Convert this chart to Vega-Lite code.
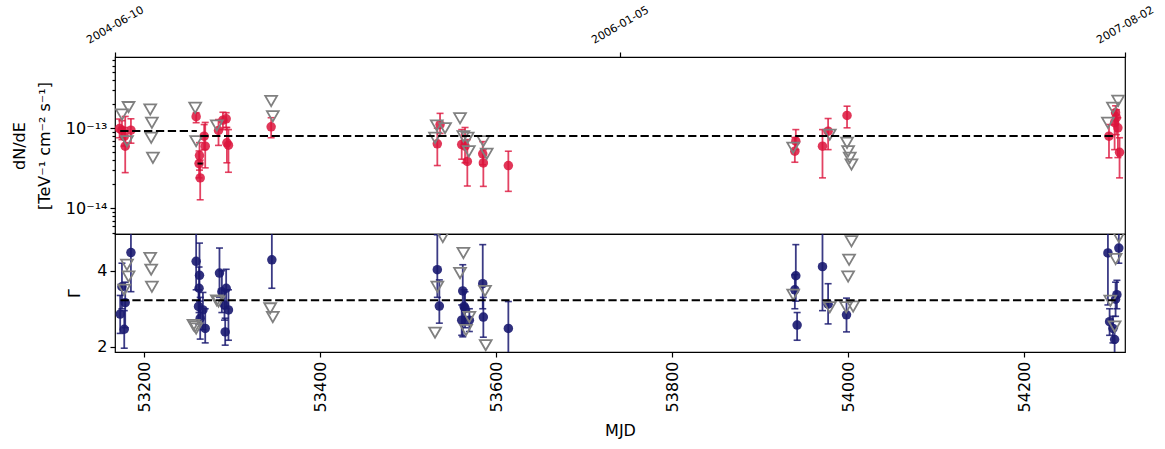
{
  "$schema": "https://vega.github.io/schema/vega-lite/v6.json",
  "background": "white",
  "padding": {"left": 10, "top": 3, "right": 5, "bottom": 5},
  "config": {
    "font": "DejaVu Sans",
    "view": {"stroke": "black", "strokeWidth": 1.2},
    "axis": {
      "domain": false,
      "grid": false,
      "labelFont": "DejaVu Sans",
      "titleFont": "DejaVu Sans",
      "labelFontSize": 16,
      "titleFontSize": 16,
      "titleFontWeight": "normal",
      "labelColor": "black",
      "titleColor": "black",
      "tickColor": "black",
      "tickWidth": 1.2,
      "tickSize": 5
    }
  },
  "datasets": {
    "flux": [
      {"mjd": 53172.0, "flux": 9.9e-14, "lo": 7.6e-14, "hi": 1.30e-13},
      {"mjd": 53174.7, "flux": 9.44e-14, "lo": 7.2e-14, "hi": 1.24e-13},
      {"mjd": 53177.3, "flux": 7.9e-14, "lo": 6.0e-14, "hi": 1.02e-13},
      {"mjd": 53178.4, "flux": 5.96e-14, "lo": 2.79e-14, "hi": 1.40e-13},
      {"mjd": 53184.9, "flux": 9.44e-14, "lo": 6.5e-14, "hi": 1.31e-13},
      {"mjd": 53259.0, "flux": 1.39e-13, "lo": 1.17e-13, "hi": 1.56e-13},
      {"mjd": 53262.8, "flux": 4.56e-14, "lo": 3.0e-14, "hi": 6.6e-14},
      {"mjd": 53262.3, "flux": 3.62e-14, "lo": 2.4e-14, "hi": 5.2e-14},
      {"mjd": 53263.6, "flux": 2.40e-14, "lo": 1.28e-14, "hi": 4.0e-14},
      {"mjd": 53268.1, "flux": 7.94e-14, "lo": 5.4e-14, "hi": 1.11e-13},
      {"mjd": 53269.3, "flux": 5.96e-14, "lo": 3.2e-14, "hi": 1.18e-13},
      {"mjd": 53284.4, "flux": 9.36e-14, "lo": 6.1e-14, "hi": 1.28e-13},
      {"mjd": 53289.4, "flux": 1.26e-13, "lo": 9.6e-14, "hi": 1.58e-13},
      {"mjd": 53293.1, "flux": 1.31e-13, "lo": 1.02e-13, "hi": 1.56e-13},
      {"mjd": 53293.9, "flux": 6.57e-14, "lo": 3.7e-14, "hi": 1.02e-13},
      {"mjd": 53295.7, "flux": 6.13e-14, "lo": 2.82e-14, "hi": 9.6e-14},
      {"mjd": 53344.2, "flux": 1.04e-13, "lo": 7.6e-14, "hi": 1.35e-13},
      {"mjd": 53536.1, "flux": 1.11e-13, "lo": 8.6e-14, "hi": 1.53e-13},
      {"mjd": 53533.0, "flux": 6.38e-14, "lo": 3.42e-14, "hi": 1.0e-13},
      {"mjd": 53560.7, "flux": 6.25e-14, "lo": 4.1e-14, "hi": 9.6e-14},
      {"mjd": 53564.5, "flux": 5.96e-14, "lo": 3.7e-14, "hi": 1.02e-13},
      {"mjd": 53567.1, "flux": 3.85e-14, "lo": 1.9e-14, "hi": 7.2e-14},
      {"mjd": 53584.6, "flux": 4.79e-14, "lo": 3.5e-14, "hi": 6.8e-14},
      {"mjd": 53585.3, "flux": 3.69e-14, "lo": 1.88e-14, "hi": 5.4e-14},
      {"mjd": 53613.7, "flux": 3.42e-14, "lo": 1.63e-14, "hi": 5.16e-14},
      {"mjd": 53939.2, "flux": 5.16e-14, "lo": 3.76e-14, "hi": 7.65e-14},
      {"mjd": 53940.3, "flux": 6.88e-14, "lo": 5.4e-14, "hi": 9.6e-14},
      {"mjd": 53970.6, "flux": 5.96e-14, "lo": 2.40e-14, "hi": 9.6e-14},
      {"mjd": 53977.0, "flux": 9.17e-14, "lo": 5.4e-14, "hi": 1.32e-13},
      {"mjd": 53998.5, "flux": 1.44e-13, "lo": 1.01e-13, "hi": 1.88e-13},
      {"mjd": 54296.1, "flux": 7.94e-14, "lo": 4.27e-14, "hi": 1.11e-13},
      {"mjd": 54302.5, "flux": 1.17e-13, "lo": 5.4e-14, "hi": 1.56e-13},
      {"mjd": 54303.6, "flux": 1.56e-13, "lo": 1.11e-13, "hi": 1.9e-13},
      {"mjd": 54304.4, "flux": 1.35e-13, "lo": 8.3e-14, "hi": 1.7e-13},
      {"mjd": 54306.2, "flux": 1.01e-13, "lo": 4.3e-14, "hi": 1.35e-13},
      {"mjd": 54308.1, "flux": 5.0e-14, "lo": 2.4e-14, "hi": 7.6e-14}
    ],
    "fluxUL": [
      {"mjd": 53174.7, "flux": 1.48e-13},
      {"mjd": 53182.2, "flux": 1.83e-13},
      {"mjd": 53180.4, "flux": 6.88e-14},
      {"mjd": 53206.8, "flux": 1.71e-13},
      {"mjd": 53208.7, "flux": 1.17e-13},
      {"mjd": 53207.9, "flux": 7.6e-14},
      {"mjd": 53209.9, "flux": 4.27e-14},
      {"mjd": 53257.9, "flux": 1.80e-13},
      {"mjd": 53259.0, "flux": 6.88e-14},
      {"mjd": 53282.5, "flux": 1.08e-13},
      {"mjd": 53344.2, "flux": 2.18e-13},
      {"mjd": 53346.1, "flux": 1.41e-13},
      {"mjd": 53530.4, "flux": 7.6e-14},
      {"mjd": 53532.4, "flux": 1.08e-13},
      {"mjd": 53541.8, "flux": 1.0e-13},
      {"mjd": 53558.8, "flux": 1.33e-13},
      {"mjd": 53562.6, "flux": 7.94e-14},
      {"mjd": 53567.5, "flux": 7.6e-14},
      {"mjd": 53568.8, "flux": 5.16e-14},
      {"mjd": 53585.3, "flux": 6.88e-14},
      {"mjd": 53589.1, "flux": 4.79e-14},
      {"mjd": 53937.3, "flux": 5.7e-14},
      {"mjd": 53978.9, "flux": 8.3e-14},
      {"mjd": 53998.5, "flux": 6.57e-14},
      {"mjd": 53999.7, "flux": 5.16e-14},
      {"mjd": 54001.6, "flux": 4.27e-14},
      {"mjd": 54003.5, "flux": 3.52e-14},
      {"mjd": 54294.9, "flux": 1.17e-13},
      {"mjd": 54300.6, "flux": 1.8e-13},
      {"mjd": 54306.5, "flux": 2.2e-13}
    ],
    "fluxLevels": [
      {"start": 53172.7, "end": 53259.8, "level": 9.2e-14},
      {"start": 53263.6, "end": 54303.6, "level": 8.0e-14},
      {"start": 53260.5, "end": 53266.5, "level": 3.62e-14}
    ],
    "gamma": [
      {"mjd": 53172.7, "gamma": 2.86, "lo": 2.35, "hi": 3.35},
      {"mjd": 53174.7, "gamma": 3.58, "lo": 3.0, "hi": 4.2},
      {"mjd": 53178.4, "gamma": 3.16, "lo": 2.5, "hi": 3.7},
      {"mjd": 53177.3, "gamma": 2.46, "lo": 1.96, "hi": 2.95},
      {"mjd": 53184.9, "gamma": 4.48, "lo": 3.45, "hi": 5.3},
      {"mjd": 53259.0, "gamma": 4.25, "lo": 3.5, "hi": 5.3},
      {"mjd": 53262.8, "gamma": 3.88, "lo": 3.2, "hi": 4.73},
      {"mjd": 53262.3, "gamma": 3.54, "lo": 2.9, "hi": 4.1},
      {"mjd": 53261.7, "gamma": 3.06, "lo": 2.6, "hi": 3.5},
      {"mjd": 53266.7, "gamma": 2.97, "lo": 2.45, "hi": 3.43},
      {"mjd": 53263.6, "gamma": 2.75, "lo": 2.2, "hi": 3.3},
      {"mjd": 53269.3, "gamma": 2.48, "lo": 2.1, "hi": 3.0},
      {"mjd": 53285.5, "gamma": 3.94, "lo": 3.3, "hi": 4.6},
      {"mjd": 53288.2, "gamma": 3.45, "lo": 2.9, "hi": 4.0},
      {"mjd": 53293.1, "gamma": 3.54, "lo": 3.0, "hi": 4.04},
      {"mjd": 53291.2, "gamma": 3.10, "lo": 2.7, "hi": 3.5},
      {"mjd": 53295.7, "gamma": 2.97, "lo": 2.17, "hi": 3.5},
      {"mjd": 53292.0, "gamma": 2.39, "lo": 2.04, "hi": 2.75},
      {"mjd": 53345.0, "gamma": 4.29, "lo": 3.54, "hi": 5.4},
      {"mjd": 53533.0, "gamma": 4.03, "lo": 3.3, "hi": 4.95},
      {"mjd": 53535.3, "gamma": 3.07, "lo": 2.62, "hi": 3.76},
      {"mjd": 53561.9, "gamma": 3.47, "lo": 2.26, "hi": 4.16},
      {"mjd": 53563.4, "gamma": 3.06, "lo": 2.6, "hi": 3.5},
      {"mjd": 53564.5, "gamma": 3.01, "lo": 2.5, "hi": 3.45},
      {"mjd": 53560.7, "gamma": 2.70, "lo": 2.3, "hi": 3.1},
      {"mjd": 53569.4, "gamma": 2.70, "lo": 2.4, "hi": 3.0},
      {"mjd": 53584.6, "gamma": 3.66, "lo": 3.0, "hi": 4.69},
      {"mjd": 53585.3, "gamma": 2.78, "lo": 2.25, "hi": 3.3},
      {"mjd": 53613.7, "gamma": 2.48, "lo": 1.7, "hi": 3.19},
      {"mjd": 53939.2, "gamma": 3.50, "lo": 3.0, "hi": 3.9},
      {"mjd": 53940.3, "gamma": 3.87, "lo": 3.2, "hi": 4.69},
      {"mjd": 53941.8, "gamma": 2.57, "lo": 2.17, "hi": 2.9},
      {"mjd": 53970.6, "gamma": 4.11, "lo": 2.95, "hi": 5.5},
      {"mjd": 53977.0, "gamma": 3.12, "lo": 2.60, "hi": 3.66},
      {"mjd": 53997.9, "gamma": 2.84, "lo": 2.39, "hi": 3.28},
      {"mjd": 54294.9, "gamma": 4.47, "lo": 3.1, "hi": 5.5},
      {"mjd": 54307.3, "gamma": 4.60, "lo": 4.2, "hi": 5.3},
      {"mjd": 54305.1, "gamma": 3.37, "lo": 3.0, "hi": 3.75},
      {"mjd": 54303.6, "gamma": 3.25, "lo": 2.8, "hi": 3.7},
      {"mjd": 54296.8, "gamma": 2.66, "lo": 2.3, "hi": 3.0},
      {"mjd": 54300.6, "gamma": 2.48, "lo": 2.1, "hi": 2.8},
      {"mjd": 54302.5, "gamma": 2.19, "lo": 1.8, "hi": 2.5}
    ],
    "gammaUL": [
      {"mjd": 53180.4, "gamma": 4.16},
      {"mjd": 53182.2, "gamma": 3.85},
      {"mjd": 53177.3, "gamma": 3.50},
      {"mjd": 53206.8, "gamma": 4.34},
      {"mjd": 53207.9, "gamma": 4.03},
      {"mjd": 53208.7, "gamma": 3.58},
      {"mjd": 53256.0, "gamma": 2.57},
      {"mjd": 53257.9, "gamma": 2.53},
      {"mjd": 53259.0, "gamma": 2.48},
      {"mjd": 53282.5, "gamma": 3.22},
      {"mjd": 53284.4, "gamma": 3.19},
      {"mjd": 53343.1, "gamma": 3.01},
      {"mjd": 53346.1, "gamma": 2.78},
      {"mjd": 53539.2, "gamma": 4.89},
      {"mjd": 53533.0, "gamma": 3.58},
      {"mjd": 53530.4, "gamma": 2.37},
      {"mjd": 53562.6, "gamma": 4.47},
      {"mjd": 53558.8, "gamma": 3.94},
      {"mjd": 53569.4, "gamma": 2.78},
      {"mjd": 53565.6, "gamma": 2.44},
      {"mjd": 53587.2, "gamma": 3.47},
      {"mjd": 53588.0, "gamma": 2.04},
      {"mjd": 53937.3, "gamma": 3.37},
      {"mjd": 53978.9, "gamma": 3.04},
      {"mjd": 54003.5, "gamma": 4.78},
      {"mjd": 54000.8, "gamma": 4.29},
      {"mjd": 53999.7, "gamma": 3.85},
      {"mjd": 53997.5, "gamma": 3.04},
      {"mjd": 54005.4, "gamma": 3.06},
      {"mjd": 54307.3, "gamma": 4.89},
      {"mjd": 54303.6, "gamma": 4.31},
      {"mjd": 54297.6, "gamma": 3.21},
      {"mjd": 54302.5, "gamma": 2.53}
    ],
    "gammaLevels": [
      {"start": 53173.0, "end": 54303.6, "level": 3.225}
    ]
  },
  "vconcat": [
    {
      "width": 1010,
      "height": 177,
      "layer": [
        {
          "data": {"name": "flux"},
          "mark": {"type": "rule", "color": "#dc143c", "opacity": 0.8, "strokeWidth": 1.8, "clip": true},
          "encoding": {
            "x": {"field": "mjd", "type": "quantitative", "scale": {"domain": [53166.8, 54314.3], "nice": false, "zero": false},
              "axis": {
                "orient": "top",
                "values": [53166.8, 53740.55, 54314.3],
                "labelExpr": "utcFormat((datum.value - 40587) * 864e5, '%Y-%m-%d')",
                "labelAngle": -30,
                "labelAlign": "center",
                "labelBaseline": "middle",
                "labelPadding": 27,
                "labelFontSize": 11,
                "labelFlush": false,
                "labelOverlap": false,
                "labelBound": false,
                "title": null
              }},
            "y": {"field": "lo", "type": "quantitative", "scale": {"type": "log", "domain": [4.79e-15, 7.72e-13], "nice": false},
              "axis": {
                "values": [5e-15, 6e-15, 7e-15, 8e-15, 9e-15, 1e-14, 2e-14, 3e-14, 4e-14, 5e-14, 6e-14, 7e-14, 8e-14, 9e-14, 1e-13, 2e-13, 3e-13, 4e-13, 5e-13, 6e-13, 7e-13],
                "labelExpr": "datum.value == 1e-13 ? '10⁻¹³' : datum.value == 1e-14 ? '10⁻¹⁴' : ''",
                "tickSize": {"condition": {"test": "datum.value == 1e-13 || datum.value == 1e-14", "value": 5}, "value": 3},
                "labelPadding": 3,
                "title": ["dN/dE", "[TeV⁻¹ cm⁻² s⁻¹]"],
                "titleLineHeight": 25,
                "titlePadding": 13
              }},
            "y2": {"field": "hi"}
          }
        },
        {
          "data": {"name": "flux"},
          "mark": {"type": "tick", "orient": "horizontal", "color": "#dc143c", "opacity": 0.8, "size": 7, "thickness": 1.6, "clip": true},
          "encoding": {
            "x": {"field": "mjd", "type": "quantitative", "scale": {"domain": [53166.8, 54314.3], "nice": false, "zero": false}},
            "y": {"field": "lo", "type": "quantitative", "scale": {"type": "log", "domain": [4.79e-15, 7.72e-13], "nice": false}}
          }
        },
        {
          "data": {"name": "flux"},
          "mark": {"type": "tick", "orient": "horizontal", "color": "#dc143c", "opacity": 0.8, "size": 7, "thickness": 1.6, "clip": true},
          "encoding": {
            "x": {"field": "mjd", "type": "quantitative", "scale": {"domain": [53166.8, 54314.3], "nice": false, "zero": false}},
            "y": {"field": "hi", "type": "quantitative", "scale": {"type": "log", "domain": [4.79e-15, 7.72e-13], "nice": false}}
          }
        },
        {
          "data": {"name": "flux"},
          "mark": {"type": "point", "shape": "circle", "filled": true, "size": 90, "color": "#dc143c", "opacity": 0.85, "clip": true},
          "encoding": {
            "x": {"field": "mjd", "type": "quantitative", "scale": {"domain": [53166.8, 54314.3], "nice": false, "zero": false}},
            "y": {"field": "flux", "type": "quantitative", "scale": {"type": "log", "domain": [4.79e-15, 7.72e-13], "nice": false}}
          }
        },
        {
          "data": {"name": "fluxUL"},
          "mark": {"type": "point", "shape": "triangle-down", "filled": false, "size": 140, "stroke": "#808080", "strokeWidth": 1.8, "opacity": 1, "clip": true},
          "encoding": {
            "x": {"field": "mjd", "type": "quantitative", "scale": {"domain": [53166.8, 54314.3], "nice": false, "zero": false}},
            "y": {"field": "flux", "type": "quantitative", "scale": {"type": "log", "domain": [4.79e-15, 7.72e-13], "nice": false}}
          }
        },
        {
          "data": {"name": "fluxLevels"},
          "mark": {"type": "rule", "color": "black", "strokeWidth": 2, "strokeDash": [8.3, 3.6]},
          "encoding": {
            "x": {"field": "start", "type": "quantitative", "scale": {"domain": [53166.8, 54314.3], "nice": false, "zero": false}},
            "x2": {"field": "end"},
            "y": {"field": "level", "type": "quantitative", "scale": {"type": "log", "domain": [4.79e-15, 7.72e-13], "nice": false}}
          }
        }
      ]
    },
    {
      "width": 1010,
      "height": 118,
      "layer": [
        {
          "data": {"name": "gamma"},
          "mark": {"type": "rule", "color": "#191970", "opacity": 0.85, "strokeWidth": 1.8, "clip": true},
          "encoding": {
            "x": {"field": "mjd", "type": "quantitative", "scale": {"domain": [53166.8, 54314.3], "nice": false, "zero": false},
              "axis": {
                "values": [53200, 53400, 53600, 53800, 54000, 54200],
                "format": "d",
                "labelAngle": 270,
                "labelPadding": 4,
                "title": "MJD",
                "titlePadding": 11
              }},
            "y": {"field": "lo", "type": "quantitative", "scale": {"domain": [1.86, 4.97], "nice": false, "zero": false},
              "axis": {"values": [2, 4], "title": "Γ", "titlePadding": 14, "labelPadding": 3}},
            "y2": {"field": "hi"}
          }
        },
        {
          "data": {"name": "gamma"},
          "mark": {"type": "tick", "orient": "horizontal", "color": "#191970", "opacity": 0.85, "size": 7, "thickness": 1.6, "clip": true},
          "encoding": {
            "x": {"field": "mjd", "type": "quantitative", "scale": {"domain": [53166.8, 54314.3], "nice": false, "zero": false}},
            "y": {"field": "lo", "type": "quantitative", "scale": {"domain": [1.86, 4.97], "nice": false, "zero": false}}
          }
        },
        {
          "data": {"name": "gamma"},
          "mark": {"type": "tick", "orient": "horizontal", "color": "#191970", "opacity": 0.85, "size": 7, "thickness": 1.6, "clip": true},
          "encoding": {
            "x": {"field": "mjd", "type": "quantitative", "scale": {"domain": [53166.8, 54314.3], "nice": false, "zero": false}},
            "y": {"field": "hi", "type": "quantitative", "scale": {"domain": [1.86, 4.97], "nice": false, "zero": false}}
          }
        },
        {
          "data": {"name": "gamma"},
          "mark": {"type": "point", "shape": "circle", "filled": true, "size": 90, "color": "#191970", "opacity": 0.9, "clip": true},
          "encoding": {
            "x": {"field": "mjd", "type": "quantitative", "scale": {"domain": [53166.8, 54314.3], "nice": false, "zero": false}},
            "y": {"field": "gamma", "type": "quantitative", "scale": {"domain": [1.86, 4.97], "nice": false, "zero": false}}
          }
        },
        {
          "data": {"name": "gammaUL"},
          "mark": {"type": "point", "shape": "triangle-down", "filled": false, "size": 140, "stroke": "#808080", "strokeWidth": 1.8, "opacity": 1, "clip": true},
          "encoding": {
            "x": {"field": "mjd", "type": "quantitative", "scale": {"domain": [53166.8, 54314.3], "nice": false, "zero": false}},
            "y": {"field": "gamma", "type": "quantitative", "scale": {"domain": [1.86, 4.97], "nice": false, "zero": false}}
          }
        },
        {
          "data": {"name": "gammaLevels"},
          "mark": {"type": "rule", "color": "black", "strokeWidth": 2, "strokeDash": [8.3, 3.6]},
          "encoding": {
            "x": {"field": "start", "type": "quantitative", "scale": {"domain": [53166.8, 54314.3], "nice": false, "zero": false}},
            "x2": {"field": "end"},
            "y": {"field": "level", "type": "quantitative", "scale": {"domain": [1.86, 4.97], "nice": false, "zero": false}}
          }
        }
      ]
    }
  ],
  "spacing": 0,
  "bounds": "flush"
}
